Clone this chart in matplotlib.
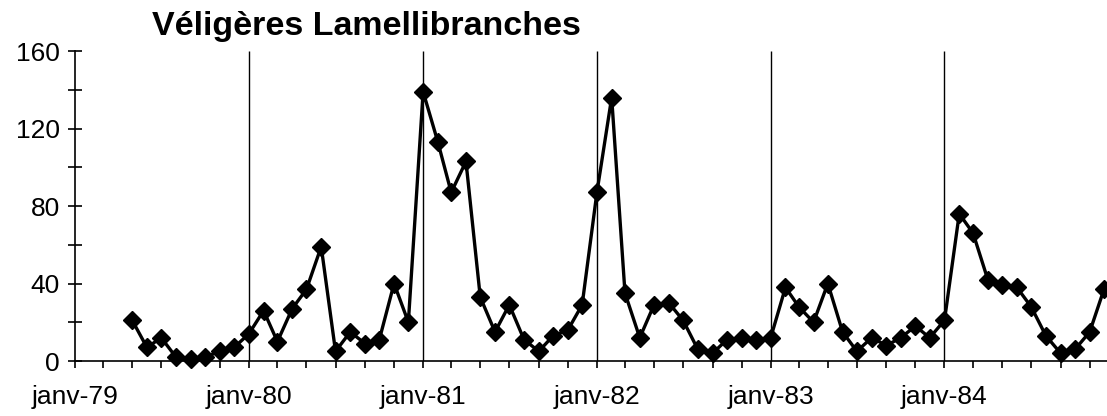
import numpy as np
import pandas as pd
import matplotlib
matplotlib.use("Agg")
import matplotlib.pyplot as plt
import matplotlib.dates as mdates
from matplotlib.ticker import FuncFormatter, MultipleLocator

plt.rcParams['font.family'] = ['Liberation Sans', 'DejaVu Sans']

# données mensuelles, mai 1979 -> décembre 1984
start_month = '1979-05'
values = [21, 7, 12, 2, 1, 2, 5, 7,
          14, 26, 10, 27, 37, 59, 5, 15, 9, 11, 40, 20,
          139, 113, 87, 103, 33, 15, 29, 11, 5, 13, 16, 29,
          87, 136, 35, 12, 29, 30, 21, 6, 4, 11, 12, 11,
          12, 38, 28, 20, 40, 15, 5, 12, 8, 12, 18, 12,
          21, 76, 66, 42, 39, 38, 28, 13, 4, 6, 15, 37]
year_starts = ['1980-01-01', '1981-01-01', '1982-01-01', '1983-01-01', '1984-01-01']
title = 'Véligères Lamellibranches'

dates = pd.date_range(start_month, periods=len(values), freq='MS')

fig = plt.figure(figsize=(11.07, 4.16), dpi=100)
ax = fig.add_axes([0.0678, 0.1322, 0.9325, 0.7452])

ax.vlines(pd.to_datetime(year_starts), 0, 160, color='black', lw=1.0, zorder=1)
ax.plot(dates, values, color='black', lw=2.4, marker='D', markersize=8.7, zorder=3, clip_on=False)

ax.set_ylim(0, 160)
ax.set_xlim(pd.Timestamp('1979-01-01'), pd.Timestamp('1984-12-08'))

ax.yaxis.set_major_locator(MultipleLocator(40))
ax.yaxis.set_minor_locator(MultipleLocator(20))
ax.xaxis.set_major_locator(mdates.YearLocator())
ax.xaxis.set_minor_locator(mdates.MonthLocator(bymonth=[3, 5, 7, 9, 11]))
ax.xaxis.set_major_formatter(FuncFormatter(lambda x, p: 'janv-' + mdates.num2date(x).strftime('%y')))

for s in ['top', 'right']:
    ax.spines[s].set_visible(False)
ax.spines['left'].set_linewidth(1.2)
ax.spines['bottom'].set_linewidth(1.2)

ax.tick_params(axis='y', which='both', direction='inout', length=10, width=1.2, labelsize=19, pad=6)
ax.tick_params(axis='x', which='both', direction='out', length=5, width=1.2, labelsize=19, pad=12)

fig.text(0.137, 0.916, title, fontsize=24.5, fontweight='bold', va='baseline', ha='left')

fig.savefig('out.png', dpi=100)
